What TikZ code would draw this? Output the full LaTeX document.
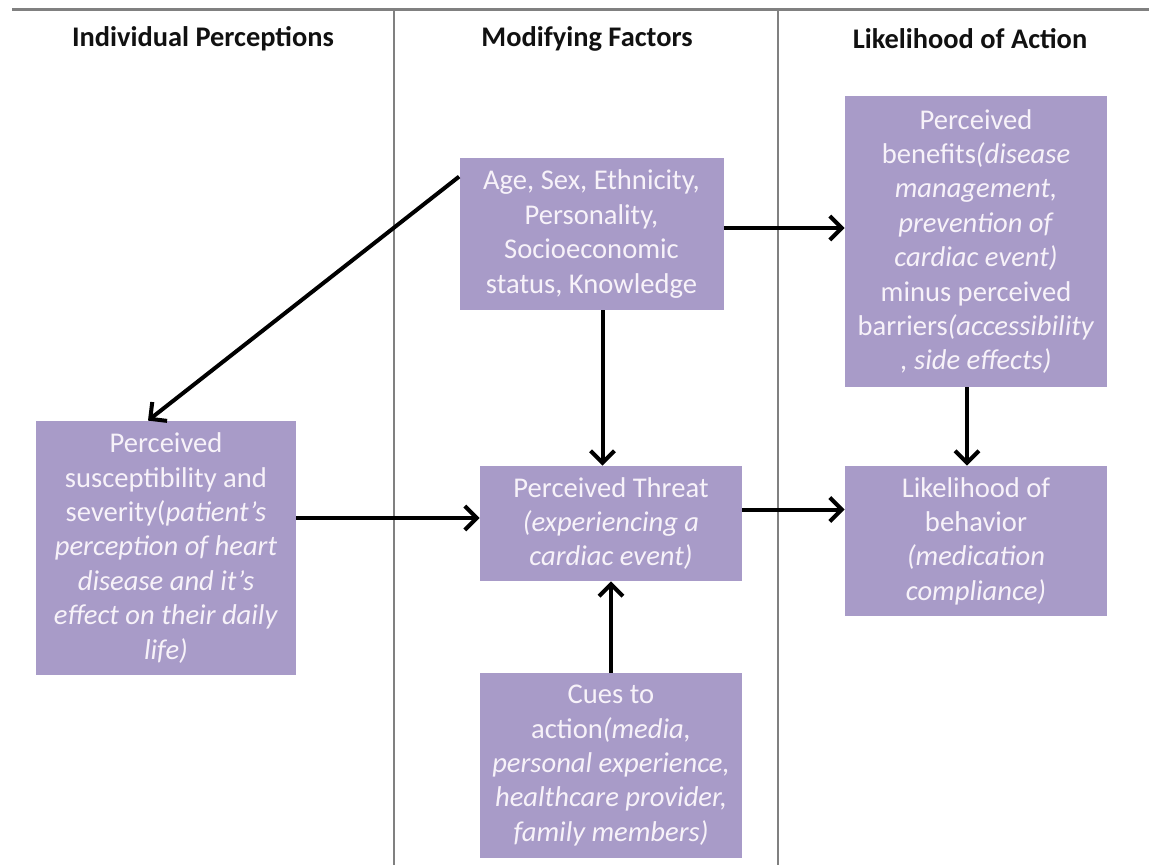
\documentclass[tikz,border=0pt]{standalone}
\usepackage{fontspec}
\setmainfont{Carlito}
\usetikzlibrary{arrows.meta}
\definecolor{hbink}{HTML}{111111}
\definecolor{hbrule}{HTML}{808080}
\definecolor{hbbox}{HTML}{A89BC8}
\definecolor{hbtext}{HTML}{F7F2F9}

\begin{document}
\begin{tikzpicture}[x=0.5pt, y=-0.5pt, font=\fontsize{14.3}{17.2}\selectfont,
    rule/.style={draw=hbrule, line width=1pt},
    head/.style={font=\fontsize{14.2}{17}\selectfont\bfseries, text=hbink},
    box/.style={fill=hbbox, text=hbtext, align=center, inner sep=0pt},
    conn/.style={draw=black, line width=2pt, -{Straight Barb[length=6pt, width=12pt]}},
  ]
  \useasboundingbox[fill=white] (0,0) rectangle (1149,865);

  % column rules and headings
  \draw[rule, line width=1.5pt] (12,10) -- (1149,10);
  \draw[rule] (394,10) -- (394,865);
  \draw[rule] (778,10) -- (778,865);
  \node[head] (hperc) at (203,39) {Individual Perceptions};
  \node[head] (hmod) at (587,39) {Modifying Factors};
  \node[head] (hact) at (970,39) {Likelihood of Action};

  % boxes
  \node[box, minimum width=132pt, minimum height=76pt] (age) at (591.5,234)
    {Age, Sex, Ethnicity,\\ Personality,\\ Socioeconomic\\ status, Knowledge};
  \node[box, minimum width=131pt, minimum height=145.5pt] (benef) at (976,241.5)
    {Perceived\\ benefits\textit{(disease}\\ \textit{management,}\\ \textit{prevention of}\\
     \textit{cardiac event)}\\ minus perceived\\ barriers\textit{(accessibility}\\ \textit{, side effects)}};
  \node[box, minimum width=130pt, minimum height=127pt] (percep) at (166,548)
    {Perceived\\ susceptibility and\\ severity(\textit{patient’s}\\ \textit{perception of heart}\\
     \textit{disease and it’s}\\ \textit{effect on their daily}\\ \textit{life)}};
  \node[box, minimum width=131pt, minimum height=57.5pt] (threat) at (611,523.5)
    {Perceived Threat\\ \textit{(experiencing a}\\ \textit{cardiac event)}};
  \node[box, minimum width=131pt, minimum height=75pt] (likely) at (976,541)
    {Likelihood of\\ behavior\\ \textit{(medication}\\ \textit{compliance)}};
  \node[box, minimum width=131pt, minimum height=92.5pt] (cues) at (611,765.5)
    {Cues to\\ action\textit{(media,}\\ \textit{personal experience,}\\
     \textit{healthcare provider,}\\ \textit{family members)}};

  % connectors
  \draw[conn] ([yshift=-9.5pt]age.north west) -- ([xshift=-9pt]percep.north);
  \draw[conn] ([yshift=3pt]age.east) -- ([yshift=3pt]age.east -| benef.west);
  \draw[conn] ([xshift=5.5pt]age.south) -- ([xshift=5.5pt]age.south |- threat.north);
  \draw[conn] ([yshift=15pt]percep.east) -- ([yshift=15pt]percep.east -| threat.west);
  \draw[conn] ([yshift=7pt]threat.east) -- ([yshift=7pt]threat.east -| likely.west);
  \draw[conn] ([xshift=-4.5pt]benef.south) -- ([xshift=-4.5pt]benef.south |- likely.north);
  \draw[conn] (cues.north) -- (threat.south);
\end{tikzpicture}
\end{document}
